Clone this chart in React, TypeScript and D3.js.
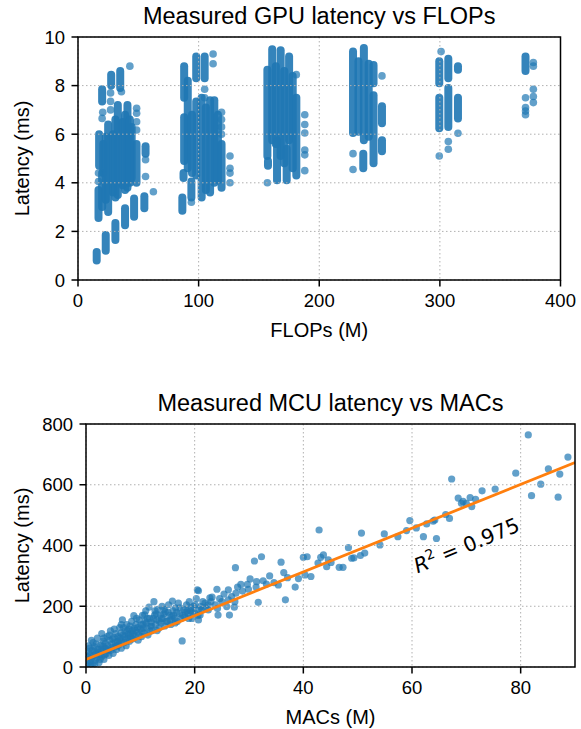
import React from 'react';
import * as d3 from 'd3';

const FONT = "'Liberation Sans', Arial, sans-serif";
const BLUE = '#1f77b4';
const ORANGE = '#ff7f0e';

// GPU chart: dense vertical runs of points, [FLOPs (M), latency low, latency high]
const gpuColumns: [number, number, number][] = [
  [15.5, 0.8, 1.15], [23, 1.2, 1.85], [31, 1.65, 2.35], [39, 2.25, 2.95],
  [46.5, 2.6, 3.35], [55, 2.95, 3.45], [17, 2.55, 3.7], [17.5, 4.7, 6.0],
  [21, 4.4, 5.6], [20, 7.35, 7.85], [25, 2.8, 6.4], [27.5, 8.0, 8.45],
  [29, 3.6, 6.0], [33, 3.5, 7.2], [35, 7.9, 8.6], [37, 3.9, 6.5],
  [41, 3.8, 7.2], [44.5, 4.2, 6.3], [48.5, 4.0, 5.6], [56, 5.2, 5.5],
  [20, 3.0, 4.4], [23, 3.3, 5.9], [31, 3.4, 6.6], [39, 3.7, 6.8], [43, 4.0, 6.6],
  [86.5, 2.85, 3.4], [88, 7.5, 8.8], [88, 4.9, 6.7], [87.5, 4.2, 4.4],
  [94, 3.4, 4.05], [98, 8.3, 9.2], [98, 4.3, 7.35], [102.5, 3.4, 7.5],
  [105, 8.3, 9.2], [109.5, 3.6, 7.4], [113, 4.0, 7.4], [119, 3.8, 5.6],
  [91, 4.6, 8.2], [94.5, 4.4, 6.8], [106, 3.7, 7.1], [116, 4.1, 6.8],
  [157, 5.1, 8.65], [157.5, 4.7, 4.9], [161, 5.75, 9.5], [165, 4.1, 5.75],
  [168, 5.1, 9.45], [173, 4.1, 5.4], [175, 5.75, 9.2], [181, 4.3, 7.5],
  [164, 5.6, 8.8], [171, 4.8, 8.6], [178, 4.6, 8.4],
  [228, 6.05, 9.4], [232.5, 6.1, 9.0], [236.5, 4.6, 5.2], [237, 5.75, 9.55],
  [245, 8.1, 8.85], [245, 4.8, 7.6], [252, 6.45, 7.15], [252, 5.3, 5.75],
  [241, 5.9, 8.9],
  [299.5, 8.1, 9.0], [299.5, 6.25, 7.5], [307, 8.3, 9.1], [307, 6.3, 7.9],
  [315, 8.65, 8.8], [315, 6.65, 7.5], [371, 8.6, 9.2],
];

// GPU chart: loose single points [FLOPs (M), latency (ms)]
const gpuPoints: [number, number][] = [
  [62.5, 3.63], [43, 8.8], [20.5, 6.9], [20, 6.65], [27, 7.7], [27, 7.35], [27, 7.0],
  [17, 4.4], [17, 4.05], [48.6, 7.07], [48.6, 6.86], [48.6, 6.51], [48.6, 6.17],
  [56, 4.95], [56, 4.26], [36, 7.75],
  [94, 3.2], [105, 7.85], [105, 7.5], [112, 9.3], [112, 8.9], [119, 6.9], [119, 6.6],
  [119, 6.3], [119, 6.0], [126, 5.1], [126, 4.6], [126, 4.4], [126, 4.0],
  [157, 4.0], [181, 8.45], [188, 6.8], [188, 6.4], [188, 6.05], [188, 5.35], [188, 5.15], [188, 4.5],
  [228, 4.55], [228, 5.2], [252, 8.4],
  [299.5, 5.1], [301, 9.4], [307, 5.7], [307, 5.38], [315, 6.04],
  [371, 7.5], [371, 7.1], [371, 6.95], [371, 6.8],
  [377.5, 8.95], [377.5, 8.8], [377.5, 7.85], [377.5, 7.55], [377.5, 7.3],
];

const gpuXTicks = [0, 100, 200, 300, 400];
const gpuYTicks = [0, 2, 4, 6, 8, 10];

// MCU chart: [MACs (M), latency (ms)]
const mcuPoints: [number, number][] = [
  // sparse upper range
  [88.7, 691], [87.2, 635], [86.9, 559], [85.1, 652], [83.7, 602], [82.0, 564], [81.4, 764],
  [79.1, 638], [75.3, 586], [72.9, 580], [71.7, 552], [70.7, 558], [69.4, 545], [68.5, 556],
  [70.0, 539], [71.0, 528], [69.1, 539], [67.3, 619], [66.9, 489], [66.2, 502], [64.2, 484],
  [63.9, 480], [62.7, 471], [64.5, 423], [62.1, 429], [60.8, 458], [59.6, 482], [59.0, 449],
  [57.4, 429], [54.9, 438], [54.1, 402], [50.7, 441], [51.3, 375], [50.5, 367], [49.3, 359],
  [48.9, 358], [48.3, 393], [47.3, 328], [46.6, 328], [45.1, 344],
  // middle range
  [42.9, 451], [43.7, 369], [43.2, 361], [44.6, 353], [44.3, 330], [42.7, 342], [40.7, 363],
  [40.0, 361], [40.3, 303], [41.4, 298], [39.1, 291], [38.5, 263], [37.1, 294], [36.4, 311],
  [35.9, 345], [36.7, 221], [35.4, 270], [34.6, 278], [33.2, 273], [32.3, 363], [31.0, 349],
  [27.5, 327], [32.6, 284], [31.4, 281], [31.3, 263], [29.7, 272], [29.9, 256], [31.7, 213],
  [28.5, 272], [27.9, 263], [27.6, 243], [26.2, 254], [26.8, 232], [24.1, 256], [23.2, 230],
  [22.8, 228], [25.0, 215], [26.2, 221], [27.4, 215], [25.9, 199], [27.3, 197], [26.4, 171],
  [24.3, 171], [21.9, 210], [20.7, 251], [24.2, 193], [22.5, 188], [21.0, 171], [20.7, 155],
  [21.3, 188], [20.5, 254], [21.1, 199], [21.5, 215], [22.0, 195], [22.5, 205], [23.0, 215],
  [23.8, 205], [24.6, 225], [25.4, 240], [28.8, 250], [30.2, 290], [33.8, 300],
  // dense low range
  [0.3, 12], [0.5, 25], [0.6, 40], [0.8, 18], [1.0, 30], [1.1, 55], [1.2, 8], [1.4, 38],
  [1.5, 67], [1.7, 22], [1.8, 45], [2.0, 30], [2.1, 95], [2.2, 58], [2.4, 15], [2.5, 40],
  [2.7, 72], [2.9, 35], [0.2, 3], [0.9, 5], [1.6, 10], [0.4, 50], [1.3, 80], [2.6, 25],
  [0.7, 62], [1.9, 75], [2.3, 50], [0.5, 70], [1.0, 88], [2.8, 60], [0.2, 35], [1.6, 52],
  [3.0, 52], [3.2, 85], [3.3, 25], [3.5, 62], [3.7, 44], [3.9, 100], [4.0, 70], [4.2, 38],
  [4.4, 88], [4.5, 119], [4.6, 55], [4.8, 76], [5.0, 45], [5.1, 98], [5.3, 66], [5.5, 110],
  [5.6, 58], [5.8, 84], [3.4, 40], [4.1, 55], [4.9, 92], [5.4, 80], [3.6, 78], [3.1, 68],
  [4.3, 105], [5.2, 125], [5.7, 70], [3.8, 58], [4.7, 64], [5.9, 100], [3.3, 95], [2.9, 110],
  [6.0, 72], [6.2, 130], [6.3, 95], [6.5, 62], [6.7, 155], [6.8, 105], [7.0, 80], [7.2, 118],
  [7.4, 70], [7.5, 140], [7.7, 96], [7.9, 125], [8.0, 85], [8.2, 110], [8.4, 150], [8.6, 92],
  [8.8, 169], [8.9, 128], [6.4, 112], [7.1, 100], [7.8, 108], [8.5, 120], [6.1, 88],
  [6.6, 82], [6.9, 130], [7.3, 92], [7.6, 118], [8.1, 135], [8.3, 98], [8.7, 108], [6.5, 140],
  [9.0, 100], [9.2, 140], [9.4, 115], [9.6, 88], [9.8, 155], [10.0, 125], [10.2, 100],
  [10.4, 170], [10.5, 140], [10.7, 112], [10.9, 150], [11.0, 185], [11.2, 128], [11.4, 105],
  [11.6, 197], [11.7, 160], [11.9, 135], [9.5, 130], [10.3, 118], [11.1, 145], [9.1, 120],
  [9.7, 105], [10.1, 140], [10.6, 128], [11.3, 160], [11.8, 118], [9.3, 160], [10.8, 172],
  [12.0, 148], [12.2, 120], [12.5, 215], [12.6, 170], [12.8, 140], [13.0, 155], [13.2, 190],
  [13.4, 128], [13.7, 171], [13.8, 145], [14.0, 200], [14.2, 160], [14.5, 135], [14.6, 182],
  [12.4, 160], [13.5, 150], [14.3, 175], [12.1, 135], [12.9, 175], [13.1, 120], [13.9, 160],
  [14.8, 150], [12.7, 185], [14.4, 190],
  [15.0, 150], [15.2, 205], [15.4, 170], [15.6, 140], [15.9, 217], [16.0, 185], [16.3, 160],
  [16.5, 195], [16.8, 150], [17.0, 210], [17.2, 175], [17.5, 160], [17.7, 86], [15.8, 165],
  [15.1, 180], [15.5, 155], [16.1, 170], [16.7, 180], [17.3, 195], [17.8, 170], [16.4, 145],
  [18.0, 190], [18.2, 165], [18.5, 205], [18.8, 175], [19.0, 215], [19.2, 185], [19.5, 160],
  [19.8, 200], [20.0, 178], [20.3, 225], [20.8, 190], [18.6, 185], [19.6, 180], [18.3, 180],
  [19.3, 195], [20.1, 205], [20.6, 170], [18.9, 160],
];

const mcuXTicks = [0, 20, 40, 60, 80];
const mcuYTicks = [0, 200, 400, 600, 800];

const fitSlope = 7.2;
const fitIntercept = 25;
const rSquared = '0.975';

const GRID = '#b0b0b0';

function Panel({ id, xScale, yScale, xTicks, yTicks, title, xLabel, yLabel, marks, overlay }: any) {
  const [x0, x1] = xScale.range();
  const [yb, yt] = yScale.range();
  const tickLen = 6.5;
  return (
    <g fontFamily={FONT}>
      <defs>
        <clipPath id={id}>
          <rect x={x0} y={yt} width={x1 - x0} height={yb - yt} />
        </clipPath>
      </defs>
      <g clipPath={`url(#${id})`}>{marks}</g>
      {xTicks.map((t: number) => (
        <line key={'gx' + t} x1={xScale(t)} x2={xScale(t)} y1={yt} y2={yb}
          stroke={GRID} strokeWidth={1} strokeDasharray="1.5,2.5" />
      ))}
      {yTicks.map((t: number) => (
        <line key={'gy' + t} x1={x0} x2={x1} y1={yScale(t)} y2={yScale(t)}
          stroke={GRID} strokeWidth={1} strokeDasharray="1.5,2.5" />
      ))}
      <g clipPath={`url(#${id})`}>{overlay}</g>
      <rect x={x0} y={yt} width={x1 - x0} height={yb - yt} fill="none" stroke="#000" strokeWidth={1.5} />
      {xTicks.map((t: number) => (
        <g key={'tx' + t}>
          <line x1={xScale(t)} x2={xScale(t)} y1={yb} y2={yb + tickLen} stroke="#000" strokeWidth={1.5} />
          <text x={xScale(t)} y={yb + 27} textAnchor="middle" fontSize={18.5}>{t}</text>
        </g>
      ))}
      {yTicks.map((t: number) => (
        <g key={'ty' + t}>
          <line x1={x0 - tickLen} x2={x0} y1={yScale(t)} y2={yScale(t)} stroke="#000" strokeWidth={1.5} />
          <text x={x0 - 13} y={yScale(t)} dy="0.36em" textAnchor="end" fontSize={18.5}>{t}</text>
        </g>
      ))}
      <text x={(x0 + x1) / 2} y={yt - 13} textAnchor="middle" fontSize={23.5}>{title}</text>
      <text x={(x0 + x1) / 2} y={yb + 57} textAnchor="middle" fontSize={20}>{xLabel}</text>
      <text transform={`translate(29,${(yb + yt) / 2}) rotate(-90)`} textAnchor="middle" fontSize={20}>{yLabel}</text>
    </g>
  );
}

export default function App() {
  const gx = d3.scaleLinear().domain([0, 400]).range([78, 560.5]);
  const gy = d3.scaleLinear().domain([0, 10]).range([280, 37]);
  const mx = d3.scaleLinear().domain([0, 90]).range([86, 575]);
  const my = d3.scaleLinear().domain([0, 800]).range([667, 424]);

  const fitLine = d3.line<number>()
    .x(d => mx(d))
    .y(d => my(fitSlope * d + fitIntercept));

  const gpuMarks = (
    <g>
      {gpuColumns.map(([f, lo, hi], i) => (
        <line key={'c' + i} x1={gx(f)} x2={gx(f)} y1={gy(lo)} y2={gy(hi)}
          stroke={BLUE} strokeOpacity={0.9} strokeWidth={8} strokeLinecap="round" />
      ))}
      {gpuPoints.map(([f, l], i) => (
        <circle key={'p' + i} cx={gx(f)} cy={gy(l)} r={3.8} fill={BLUE} fillOpacity={0.7} />
      ))}
    </g>
  );

  const mcuMarks = (
    <g>
      {mcuPoints.map(([m, l], i) => (
        <circle key={'m' + i} cx={mx(m)} cy={my(l)} r={3.6} fill={BLUE} fillOpacity={0.7} />
      ))}
    </g>
  );

  const textX = mx(61);
  const textY = my(308);

  const mcuOverlay = (
    <path d={fitLine([0, 90]) || ''} stroke={ORANGE} strokeWidth={2.8} fill="none" />
  );

  return (
    <svg width={581} height={729} style={{ position: 'absolute', left: 0, top: 0, background: '#fff' }}>
      <rect width={581} height={729} fill="#fff" />
      <Panel id="gpuClip" xScale={gx} yScale={gy} xTicks={gpuXTicks} yTicks={gpuYTicks}
        title="Measured GPU latency vs FLOPs" xLabel="FLOPs (M)" yLabel="Latency (ms)"
        marks={gpuMarks} />
      <Panel id="mcuClip" xScale={mx} yScale={my} xTicks={mcuXTicks} yTicks={mcuYTicks}
        title="Measured MCU latency vs MACs" xLabel="MACs (M)" yLabel="Latency (ms)"
        marks={mcuMarks} overlay={mcuOverlay} />
      <text transform={`translate(${textX},${textY}) rotate(-22.5)`} fontFamily="'DejaVu Sans', sans-serif" fontSize={20.5}>
        <tspan fontStyle="italic">R</tspan>
        <tspan fontSize={14} dy={-8}>2</tspan>
        <tspan dy={8}> = {rSquared}</tspan>
      </text>
    </svg>
  );
}
